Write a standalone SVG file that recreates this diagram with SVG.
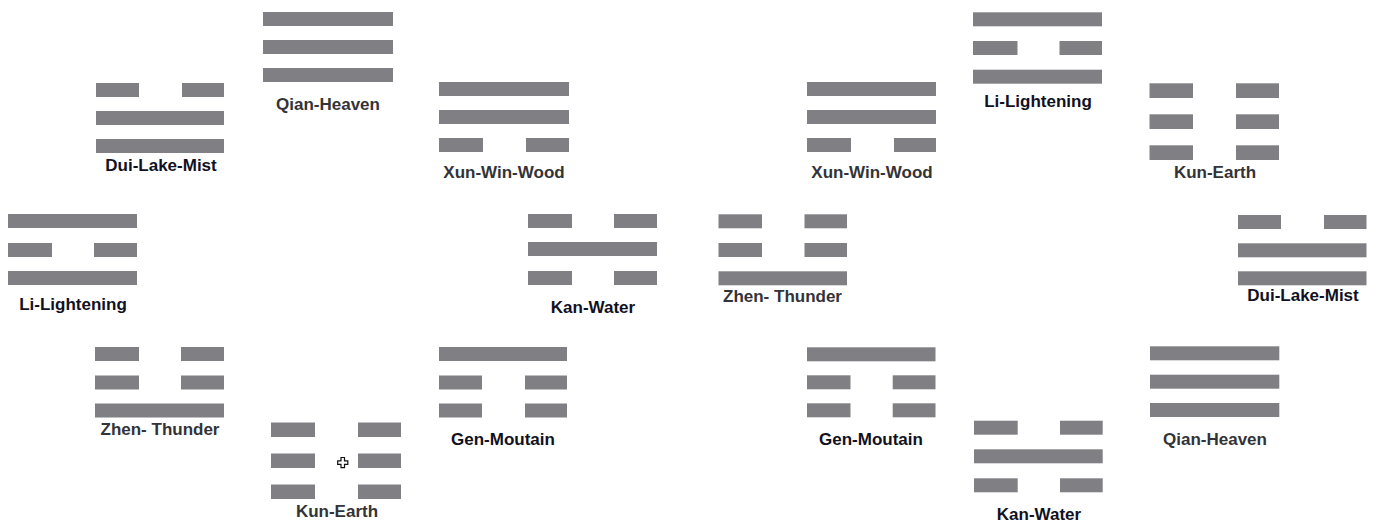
<svg xmlns="http://www.w3.org/2000/svg" width="1377" height="522" viewBox="0 0 1377 522">
<style>
.b{fill:#807f84}
.t{font-family:"Liberation Sans",Arial,sans-serif;font-weight:bold;font-size:17px;text-anchor:middle}
.d{fill:#111122}
.g{fill:#333338}
</style>
<rect width="1377" height="522" fill="#ffffff"/>
<!-- Left octagon -->
<g id="qian-left">
<rect class="b" x="263" y="12" width="130" height="14"/>
<rect class="b" x="263" y="40" width="130" height="14"/>
<rect class="b" x="263" y="68" width="130" height="14"/>
<text class="t g" x="328" y="110">Qian-Heaven</text>
</g>
<g id="dui-left">
<rect class="b" x="96" y="83" width="43" height="14"/>
<rect class="b" x="182" y="83" width="42" height="14"/>
<rect class="b" x="96" y="111" width="128" height="14"/>
<rect class="b" x="96" y="139" width="128" height="14"/>
<text class="t d" x="161" y="171">Dui-Lake-Mist</text>
</g>
<g id="xun-left">
<rect class="b" x="439" y="82" width="130" height="14"/>
<rect class="b" x="439" y="110" width="130" height="14"/>
<rect class="b" x="439" y="138" width="44" height="14"/>
<rect class="b" x="526" y="138" width="43" height="14"/>
<text class="t g" x="504" y="178">Xun-Win-Wood</text>
</g>
<g id="li-left">
<rect class="b" x="8" y="214" width="129" height="14"/>
<rect class="b" x="8" y="243" width="44" height="14"/>
<rect class="b" x="94" y="243" width="43" height="14"/>
<rect class="b" x="8" y="271" width="129" height="14"/>
<text class="t d" x="73" y="310">Li-Lightening</text>
</g>
<g id="kan-left">
<rect class="b" x="528" y="214" width="44" height="14"/>
<rect class="b" x="614" y="214" width="43" height="14"/>
<rect class="b" x="528" y="242" width="129" height="14"/>
<rect class="b" x="528" y="271" width="44" height="14"/>
<rect class="b" x="614" y="271" width="43" height="14"/>
<text class="t d" x="593" y="312.5">Kan-Water</text>
</g>
<g id="zhen-left">
<rect class="b" x="95" y="347" width="44" height="14"/>
<rect class="b" x="181" y="347" width="43" height="14"/>
<rect class="b" x="95" y="375.5" width="44" height="14"/>
<rect class="b" x="181" y="375.5" width="43" height="14"/>
<rect class="b" x="95" y="403.5" width="129" height="14"/>
<text class="t g" x="160" y="435">Zhen- Thunder</text>
</g>
<g id="kun-left">
<rect class="b" x="271" y="422.5" width="44" height="14.5"/>
<rect class="b" x="358" y="422.5" width="43" height="14.5"/>
<rect class="b" x="271" y="453.5" width="44" height="14.5"/>
<rect class="b" x="358" y="453.5" width="43" height="14.5"/>
<rect class="b" x="271" y="484.5" width="44" height="14.5"/>
<rect class="b" x="358" y="484.5" width="43" height="14.5"/>
<text class="t g" x="337" y="517">Kun-Earth</text>
</g>
<g id="gen-left">
<rect class="b" x="439" y="347" width="128" height="14"/>
<rect class="b" x="439" y="375.5" width="43" height="14"/>
<rect class="b" x="525" y="375.5" width="42" height="14"/>
<rect class="b" x="439" y="403.5" width="43" height="14"/>
<rect class="b" x="525" y="403.5" width="42" height="14"/>
<text class="t d" x="503" y="445">Gen-Moutain</text>
</g>
<!-- Right octagon -->
<g id="xun-right">
<rect class="b" x="807" y="82" width="129" height="14"/>
<rect class="b" x="807" y="110" width="129" height="14"/>
<rect class="b" x="807" y="138" width="44" height="14"/>
<rect class="b" x="894" y="138" width="42" height="14"/>
<text class="t g" x="872" y="178">Xun-Win-Wood</text>
</g>
<g id="li-right">
<rect class="b" x="973" y="12.3" width="129" height="14"/>
<rect class="b" x="973" y="41" width="44.5" height="14"/>
<rect class="b" x="1059.5" y="41" width="42.5" height="14"/>
<rect class="b" x="973" y="69.7" width="129" height="14"/>
<text class="t d" x="1038" y="107">Li-Lightening</text>
</g>
<g id="kun-right">
<rect class="b" x="1149.5" y="83.3" width="43.5" height="14.7"/>
<rect class="b" x="1236" y="83.3" width="43" height="14.7"/>
<rect class="b" x="1149.5" y="114.3" width="43.5" height="14.7"/>
<rect class="b" x="1236" y="114.3" width="43" height="14.7"/>
<rect class="b" x="1149.5" y="145.3" width="43.5" height="14.7"/>
<rect class="b" x="1236" y="145.3" width="43" height="14.7"/>
<text class="t g" x="1215" y="178">Kun-Earth</text>
</g>
<g id="zhen-right">
<rect class="b" x="718.5" y="214.3" width="43.5" height="14"/>
<rect class="b" x="804.5" y="214.3" width="42.5" height="14"/>
<rect class="b" x="718.5" y="243" width="43.5" height="14"/>
<rect class="b" x="804.5" y="243" width="42.5" height="14"/>
<rect class="b" x="718.5" y="271.3" width="128.5" height="14"/>
<text class="t g" x="782.5" y="301.5">Zhen- Thunder</text>
</g>
<g id="dui-right">
<rect class="b" x="1238" y="215" width="43" height="14"/>
<rect class="b" x="1324" y="215" width="42.5" height="14"/>
<rect class="b" x="1238" y="243.3" width="128.5" height="14"/>
<rect class="b" x="1238" y="271.3" width="128.5" height="14"/>
<text class="t d" x="1303" y="301">Dui-Lake-Mist</text>
</g>
<g id="gen-right">
<rect class="b" x="807" y="347.3" width="128.5" height="14"/>
<rect class="b" x="807" y="375.3" width="43.5" height="14"/>
<rect class="b" x="892.7" y="375.3" width="42.8" height="14"/>
<rect class="b" x="807" y="403.3" width="43.5" height="14"/>
<rect class="b" x="892.7" y="403.3" width="42.8" height="14"/>
<text class="t d" x="871" y="445">Gen-Moutain</text>
</g>
<g id="kan-right">
<rect class="b" x="974" y="420.7" width="43.7" height="14"/>
<rect class="b" x="1060" y="420.7" width="42.7" height="14"/>
<rect class="b" x="974" y="449.3" width="128.7" height="14"/>
<rect class="b" x="974" y="478.3" width="43.7" height="14"/>
<rect class="b" x="1060" y="478.3" width="42.7" height="14"/>
<text class="t d" x="1039" y="520">Kan-Water</text>
</g>
<g id="qian-right">
<rect class="b" x="1150" y="346.3" width="129.3" height="14"/>
<rect class="b" x="1150" y="374.7" width="129.3" height="14"/>
<rect class="b" x="1150" y="403" width="129.3" height="14"/>
<text class="t g" x="1215" y="445">Qian-Heaven</text>
</g>
<g id="connectors"></g>
<!-- cursor mark -->
<path d="M341 457.5h3.5v3.3h3.3v3.5h-3.3v3.3h-3.5v-3.3h-3.3v-3.5h3.3z" fill="#ffffff" stroke="#111111" stroke-width="1.2"/>
</svg>
